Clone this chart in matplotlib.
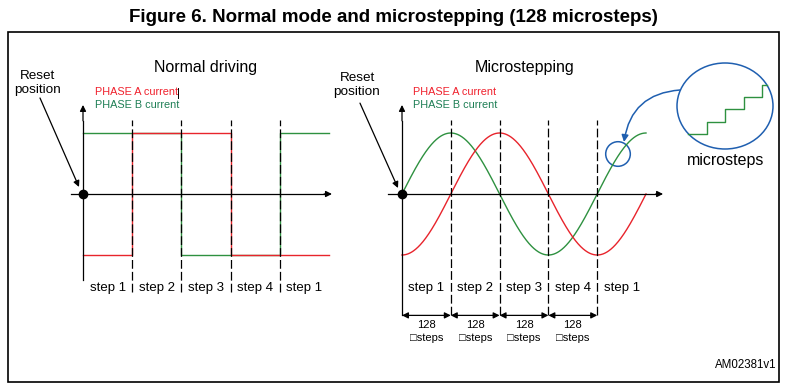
import numpy as np
import matplotlib
matplotlib.use('Agg')
import matplotlib.pyplot as plt
from matplotlib.patches import Rectangle, Circle, Ellipse, FancyArrowPatch

plt.rcParams['font.family'] = ['Liberation Sans', 'DejaVu Sans']

# chart content
title = 'Figure 6. Normal mode and microstepping (128 microsteps)'
step_labels = ['step 1', 'step 2', 'step 3', 'step 4', 'step 1']
# full-step current levels for normal driving (one value per step)
phase_a_normal = [-1, 1, 1, -1, -1]
phase_b_normal = [1, 1, -1, -1, 1]
microsteps_per_step = 128
n_steps = 5
# zoomed staircase inside the callout
stair_levels = [0, 1, 2, 3, 4]
note_id = 'AM02381v1'

RED = '#e8242c'
GREEN = '#2e9140'
BLUE = '#1f5fb0'
W, H = 788, 390

fig = plt.figure(figsize=(W / 100, H / 100), dpi=100)
base = fig.add_axes([0, 0, 1, 1])
base.set_xlim(0, W)
base.set_ylim(H, 0)
base.axis('off')


def panel_axes(x0, y0, sx, sy):
    a = fig.add_axes([0, 0, 1, 1])
    a.set_xlim(-x0 / sx, (W - x0) / sx)
    a.set_ylim(-(H - y0) / sy, y0 / sy)
    a.axis('off')
    a.patch.set_alpha(0)
    return a


def arrow(a, start, tip, color='k', ms=8, style='-|>', lw=0.9):
    a.annotate('', xy=tip, xytext=start,
               arrowprops=dict(arrowstyle=style, color=color, lw=lw,
                               mutation_scale=ms, shrinkA=0, shrinkB=0))


# frame + title
base.add_patch(Rectangle((8, 32), 771, 350, fill=False, lw=1.2, ec='k'))
base.text(393, 18, title, ha='center', va='center', fontsize=13.5, fontweight='bold')
base.text(776, 365, note_id, ha='right', va='center', fontsize=8.3)

dash = (0, (7, 2.5))
bounds = np.arange(1, n_steps)

# ---- normal driving
an = panel_axes(83, 194, 49.2, 61)
xs = np.arange(n_steps + 1)
an.plot(xs, phase_b_normal + [phase_b_normal[-1]], drawstyle='steps-post', color=GREEN, lw=1)
an.plot(xs, phase_a_normal + [phase_a_normal[-1]], drawstyle='steps-post', color=RED, lw=1)
an.vlines(bounds, -1.607, 1.213, colors='k', lw=0.9, linestyles=dash)
an.plot([0, 0], [-1.41, 1.2], color='k', lw=0.9)
arrow(an, (0, 1.2), (0, 1.46), ms=9)
an.plot([-0.244, 4.9], [0, 0], color='k', lw=0.9)
arrow(an, (4.9, 0), (5.06, 0), ms=9)
an.plot(0, 0, 'o', color='k', ms=6)
for i, lab in enumerate(step_labels):
    an.text(i + 0.5, -1.541, lab, ha='center', va='center', fontsize=9.5)
an.text(2.5, 2.08, 'Normal driving', ha='center', va='center', fontsize=11.5)
an.text(-0.915, 1.823, 'Reset\nposition', ha='center', va='center', fontsize=9.7, linespacing=1.25)
arrow(an, (-0.874, 1.574), (-0.081, 0.115), ms=9)
an.text(0.244, 1.672, 'PHASE A current', color='#f0202c', ha='left', va='center', fontsize=7.8)
an.text(0.244, 1.459, 'PHASE B current', color='#1e7f55', ha='left', va='center', fontsize=7.8)
an.plot([1.94, 1.94], [1.574, 1.74], color='k', lw=0.7)

# ---- microstepping
am = panel_axes(402, 194, 48.8, 61)
k = np.arange(n_steps * microsteps_per_step + 1)
pos = k / microsteps_per_step
angle = np.pi / 2 * pos
phase_b_micro = np.sin(angle)
phase_a_micro = -np.cos(angle)
am.plot(pos, phase_b_micro, color=GREEN, lw=1)
am.plot(pos, phase_a_micro, color=RED, lw=1)
am.vlines(bounds, -1.99, 1.213, colors='k', lw=0.9, linestyles=dash)
am.plot([0, 0], [-1.99, 1.2], color='k', lw=0.9)
arrow(am, (0, 1.2), (0, 1.46), ms=9)
am.plot([-0.287, 5.2], [0, 0], color='k', lw=0.9)
arrow(am, (5.2, 0), (5.35, 0), ms=9)
am.plot(0, 0, 'o', color='k', ms=6)
for i, lab in enumerate(step_labels):
    am.text(i + 0.5, -1.541, lab, ha='center', va='center', fontsize=9.5)
for i in range(n_steps - 1):
    arrow(am, (i, -1.99), (i + 1, -1.99), style='<|-|>', ms=9)
    am.text(i + 0.5, -2.148, str(microsteps_per_step), ha='center', va='center', fontsize=8)
    am.text(i + 0.5, -2.36, '\u25a1steps', ha='center', va='center', fontsize=8)
am.text(2.52, 2.08, 'Microstepping', ha='center', va='center', fontsize=11.5)
am.text(-0.922, 1.787, 'Reset\nposition', ha='center', va='center', fontsize=9.7, linespacing=1.25)
arrow(am, (-0.861, 1.49), (-0.082, 0.098), ms=9)
am.text(0.225, 1.672, 'PHASE A current', color='#f0202c', ha='left', va='center', fontsize=7.8)
am.text(0.225, 1.459, 'PHASE B current', color='#1e7f55', ha='left', va='center', fontsize=7.8)

# ---- callout
base.add_patch(Circle((618, 154), 12.3, fill=False, ec=BLUE, lw=1.1))
base.add_patch(Ellipse((725, 106), 96, 86, fill=False, ec=BLUE, lw=1.1))
base.add_patch(FancyArrowPatch((680, 90), (624, 142), connectionstyle='arc3,rad=0.4',
                               arrowstyle='-|>', mutation_scale=10, color=BLUE, lw=1.1,
                               shrinkA=0, shrinkB=0))
ac = panel_axes(688, 134, 18.5, 12.3)
sx = np.arange(len(stair_levels) + 1).astype(float)
sx[-1] = len(stair_levels) - 1 + 0.25
ac.plot(sx, stair_levels + [stair_levels[-1]], drawstyle='steps-post', color=GREEN, lw=1)
base.text(726, 160, 'microsteps', ha='center', va='center', fontsize=11.5)

fig.savefig('out.png', dpi=100)
